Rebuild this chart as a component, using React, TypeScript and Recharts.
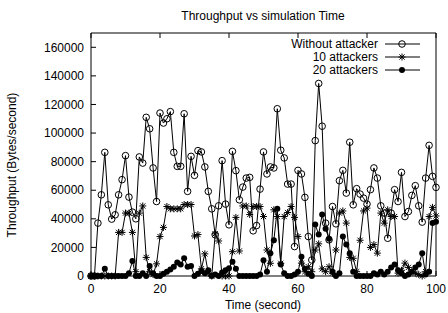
import { LineChart, Line, XAxis, YAxis, Legend } from 'recharts';

// Throughput (bytes/second) sampled once per second, 0..100 s
const TIME_TICKS = [0, 20, 40, 60, 80, 100];
const THROUGHPUT_TICKS = [0, 20000, 40000, 60000, 80000, 100000, 120000, 140000, 160000];
const SERIES_NAMES = ['Without attacker', '10 attackers', '20 attackers'];

const WITHOUT_ATTACKER = [
  0, 0, 37000, 56800, 86500, 49800, 39800, 42800, 56800, 67400,
  84200, 55200, 44700, 40000, 83300, 79000, 111000, 103000, 75600, 52100,
  114000, 107000, 110000, 115000, 86500, 76700, 76700, 113500, 59200, 83700,
  70400, 87700, 86800, 76300, 59200, 47000, 28800, 49100, 80700, 50300,
  35800, 87200, 73700, 53300, 62200, 68500, 69000, 31600, 35300, 60800,
  86800, 71400, 76300, 75600, 117000, 88000, 82600, 64300, 64300, 20600,
  73900, 71400, 55000, 27600, 11200, 94700, 134700, 104800, 37000, 25300,
  48600, 36500, 66700, 73900, 58000, 93600, 49800, 61100, 57300, 54500,
  50300, 60400, 75600, 68500, 49100, 44000, 26400, 44000, 60400, 52100,
  72500, 41600, 45100, 56400, 63200, 49100, 37700, 68500, 91400, 69700,
  62000,
];

const TEN_ATTACKERS = [
  0, 0, 0, 0, 0, 0, 0, 0, 30500, 30500,
  44000, 44000, 30500, 3000, 44000, 49000, 13000, 3000, 1000, 8500,
  27600, 34000, 48600, 47000, 47000, 47000, 47000, 50000, 50000, 50000,
  28000, 29000, 5000, 15500, 2000, 0, 29500, 24500, 0, 0,
  0, 17000, 41000, 17500, 49000, 49000, 43000, 48600, 48600, 48600,
  41600, 18200, 8900, 46300, 41600, 8900, 41600, 44400, 48600, 41000,
  27600, 9000, 3000, 6500, 3000, 18200, 22500, 5000, 3000, 6500,
  2000, 18200, 44000, 45500, 37000, 13000, 12400, 3000, 25000, 45500,
  47500, 20000, 22000, 16000, 44000, 37000, 46300, 41600, 41600, 2000,
  4000, 9000, 6000, 3000, 2000, 1000, 0, 3000, 41600, 48000,
  42000,
];

const TWENTY_ATTACKERS = [
  0, 0, 0, 0, 5000, 0, 0, 0, 0, 0,
  0, 2000, 10500, 0, 0, 2000, 0, 7000, 2000, 0,
  0, 1500, 3000, 4500, 6500, 9500, 8000, 12400, 6500, 7000,
  0, 1500, 3500, 2000, 4000, 0, 1000, 0, 2500, 4000,
  5500, 10000, 5000, 0, 0, 0, 0, 0, 0, 1000,
  11000, 3000, 16000, 25000, 47000, 8000, 2000, 0, 0, 1000,
  3000, 13500, 5000, 1500, 0, 36000, 29000, 43000, 33000, 26000,
  3000, 0, 2000, 27600, 22000, 16000, 3000, 0, 0, 0,
  0, 0, 2000, 1000, 3000, 1000, 3000, 6000, 8000, 4000,
  2000, 0, 1000, 3000, 6000, 8000, 15900, 1000, 3000, 37000,
  38000,
];

const rows = WITHOUT_ATTACKER.map((v, i) => ({
  time: i,
  without: v,
  ten: TEN_ATTACKERS[i],
  twenty: TWENTY_ATTACKERS[i],
}));

const INK = '#000';
const FONT = "'Liberation Sans', Arial, Helvetica, sans-serif";

// gnuplot style point shapes
const openCircle = (cx: number, cy: number, key?: any) => (
  <circle key={key} cx={cx} cy={cy} r={3.3} fill="none" stroke={INK} strokeWidth={1} />
);
const star = (cx: number, cy: number, key?: any) => (
  <path
    key={key}
    d={`M${cx - 3.5},${cy}h7M${cx},${cy - 3.5}v7M${cx - 2.6},${cy - 2.6}l5.2,5.2M${cx - 2.6},${cy + 2.6}l5.2,-5.2`}
    stroke={INK}
    strokeWidth={1}
    fill="none"
  />
);
const filledDot = (cx: number, cy: number, key?: any) => (
  <circle key={key} cx={cx} cy={cy} r={3} fill={INK} stroke="none" />
);

const SHAPES = [openCircle, star, filledDot];

const dotFor = (shape: typeof openCircle) => (props: any) => {
  const { cx, cy, index } = props;
  if (cx == null || cy == null) return <g key={index} />;
  return shape(cx, cy, index);
};

const LegendBox = () => (
  <svg width={200} height={44} style={{ overflow: 'visible' }}>
    {SERIES_NAMES.map((name, i) => {
      const y = 8 + i * 13;
      return (
        <g key={name}>
          <text x={138} y={y} dy={4.3} textAnchor="end" fontSize={12} fill={INK} fontFamily={FONT}>
            {name}
          </text>
          <line x1={145} x2={180} y1={y} y2={y} stroke={INK} strokeWidth={1} />
          {SHAPES[i](162, y)}
        </g>
      );
    })}
  </svg>
);

const emptyTick = () => <g />;

export default function App() {
  return (
    <div style={{ position: 'absolute', left: 0, top: 0, width: 448, height: 313, background: '#fff', fontFamily: FONT }}>
      <LineChart width={448} height={313} data={rows} margin={{ top: 32, right: 11, bottom: 17, left: 31 }}>
        <XAxis
          dataKey="time"
          type="number"
          domain={[0, 100]}
          ticks={TIME_TICKS}
          height={20}
          stroke={INK}
          tickSize={-5}
          tickMargin={13}
          tick={{ fontSize: 12, fill: INK }}
          label={() => (
            <text x={263} y={309} textAnchor="middle" fontSize={12} fill={INK}>
              Time (second)
            </text>
          )}
        />
        <XAxis
          xAxisId="top"
          orientation="top"
          dataKey="time"
          type="number"
          domain={[0, 100]}
          ticks={TIME_TICKS}
          height={1}
          stroke={INK}
          tickSize={-5}
          tick={emptyTick}
          label={() => (
            <text x={263} y={20} textAnchor="middle" fontSize={12} fill={INK}>
              Throughput vs simulation Time
            </text>
          )}
        />
        <YAxis
          type="number"
          domain={[0, 170000]}
          ticks={THROUGHPUT_TICKS}
          width={60}
          stroke={INK}
          tickSize={-5}
          tickMargin={12}
          tick={{ fontSize: 12, fill: INK }}
          label={() => (
            <text x={16} y={165} transform="rotate(-90, 16, 165)" textAnchor="middle" fontSize={12} fill={INK}>
              Throughput (Bytes/second)
            </text>
          )}
        />
        <YAxis
          yAxisId="right"
          orientation="right"
          type="number"
          domain={[0, 170000]}
          ticks={THROUGHPUT_TICKS}
          width={1}
          stroke={INK}
          tickSize={-5}
          tick={emptyTick}
        />
        <Legend
          content={LegendBox}
          layout="vertical"
          align="center"
          verticalAlign="middle"
          wrapperStyle={{ left: 240, top: 36, width: 200, height: 44 }}
        />
        <Line
          dataKey="without"
          name={SERIES_NAMES[0]}
          type="linear"
          stroke={INK}
          strokeWidth={1}
          dot={dotFor(openCircle)}
          activeDot={false}
          isAnimationActive={false}
        />
        <Line
          dataKey="ten"
          name={SERIES_NAMES[1]}
          type="linear"
          stroke={INK}
          strokeWidth={1}
          dot={dotFor(star)}
          activeDot={false}
          isAnimationActive={false}
        />
        <Line
          dataKey="twenty"
          name={SERIES_NAMES[2]}
          type="linear"
          stroke={INK}
          strokeWidth={1}
          dot={dotFor(filledDot)}
          activeDot={false}
          isAnimationActive={false}
        />
      </LineChart>
    </div>
  );
}
